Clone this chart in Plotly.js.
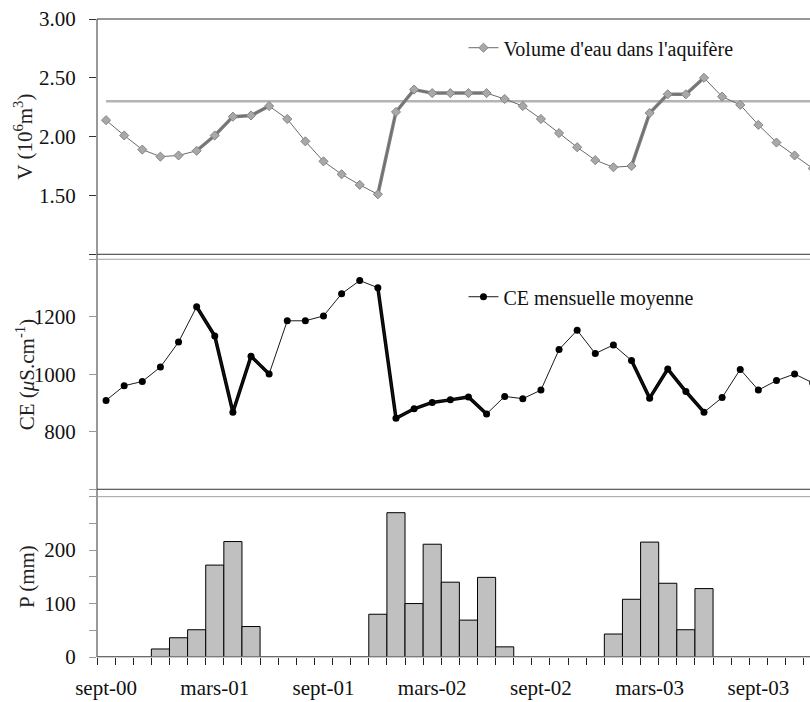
<!DOCTYPE html>
<html><head><meta charset="utf-8">
<script src="https://cdn.plot.ly/plotly-3.0.1.min.js"></script>
<style>html,body{margin:0;padding:0;background:#fff;overflow:hidden}#chart{width:810px;height:702px}</style>
</head><body><div id="chart"></div>
<script>
// Monthly categories, Sept 2000 -> Dec 2003
const months = [
  'sept-00','oct-00','nov-00','déc-00','janv-01','févr-01','mars-01','avr-01','mai-01','juin-01','juil-01','août-01',
  'sept-01','oct-01','nov-01','déc-01','janv-02','févr-02','mars-02','avr-02','mai-02','juin-02','juil-02','août-02',
  'sept-02','oct-02','nov-02','déc-02','janv-03','févr-03','mars-03','avr-03','mai-03','juin-03','juil-03','août-03',
  'sept-03','oct-03','nov-03','déc-03'
];
// Volume d'eau dans l'aquifère (10^6 m3)
const volume = [
  2.14, 2.01, 1.89, 1.83, 1.84, 1.88, 2.01, 2.17, 2.18, 2.26, 2.15, 1.96,
  1.79, 1.68, 1.59, 1.51, 2.21, 2.40, 2.37, 2.37, 2.37, 2.37, 2.32, 2.26,
  2.15, 2.03, 1.91, 1.80, 1.74, 1.75, 2.20, 2.36, 2.36, 2.50, 2.34, 2.27,
  2.10, 1.95, 1.84, 1.73
];
const volumeReference = 2.30;
// CE mensuelle moyenne (µS/cm)
const conductivity = [
  909, 960, 975, 1025, 1112, 1235, 1133, 868, 1063, 1001, 1186, 1186,
  1203, 1280, 1326, 1301, 847, 880, 902, 911, 921, 862, 923, 915,
  945, 1086, 1153, 1072, 1102, 1048, 917, 1018, 940, 868, 919, 1017,
  945, 978, 1001, 970
];
// Précipitations mensuelles (mm)
const rainfall = [
  0, 0, 0, 15, 36, 51, 172, 216, 57, 0, 0, 0,
  0, 0, 0, 80, 270, 100, 211, 140, 69, 149, 19, 0,
  0, 0, 0, 0, 43, 108, 215, 138, 51, 128, 0, 0,
  0, 0, 0, 0
];
// Recharge periods (first and last month index) drawn with a heavy line
const rechargeSpans = [[5, 9], [15, 21], [29, 33]];
const tickLabels = ['sept-00','mars-01','sept-01','mars-02','sept-02','mars-03','sept-03'];
const vTicks = [1.5, 2, 2.5, 3], vTickText = ['1.50', '2.00', '2.50', '3.00'], vMinor = [1];
const ceTicks = [800, 1000, 1200], ceMinor = [600, 1400];
const pTicks = [0, 100, 200], pMinor = [50, 150, 250, 300];

const idx = months.map((m, i) => i);
const tickPos = tickLabels.map(l => months.indexOf(l));
const FONT = "'Liberation Serif', 'Times New Roman', serif";
const traces = [];

traces.push({
  x: [idx[0], idx[idx.length - 1]], y: [volumeReference, volumeReference],
  mode: 'lines', line: {color: '#b4b4b4', width: 2.5}, showlegend: false, hoverinfo: 'skip',
  xaxis: 'x', yaxis: 'y'
});
rechargeSpans.forEach(([a, b]) => traces.push({
  x: idx.slice(a, b + 1), y: volume.slice(a, b + 1), mode: 'lines',
  line: {color: '#808080', width: 3.5}, showlegend: false, hoverinfo: 'skip', xaxis: 'x', yaxis: 'y'
}));
traces.push({
  x: idx, y: volume, text: months, name: "Volume d'eau dans l'aquifère", mode: 'lines+markers',
  line: {color: '#6a6a6a', width: 1},
  marker: {symbol: 'diamond', size: 7, color: '#a8a8a8', line: {color: '#858585', width: 1}},
  xaxis: 'x', yaxis: 'y', legend: 'legend'
});
rechargeSpans.forEach(([a, b]) => traces.push({
  x: idx.slice(a, b + 1), y: conductivity.slice(a, b + 1), mode: 'lines',
  line: {color: '#000', width: 3.5}, showlegend: false, hoverinfo: 'skip', xaxis: 'x', yaxis: 'y2'
}));
traces.push({
  x: idx, y: conductivity, text: months, name: 'CE mensuelle moyenne', mode: 'lines+markers',
  line: {color: '#1a1a1a', width: 1},
  marker: {symbol: 'circle', size: 7, color: '#000'},
  xaxis: 'x', yaxis: 'y2', legend: 'legend2'
});
traces.push({
  type: 'bar', x: idx, y: rainfall, text: months, width: 1, textposition: 'none',
  marker: {color: '#c0c0c0', line: {color: '#000', width: 1}},
  showlegend: false, xaxis: 'x', yaxis: 'y3'
});

const tickfont = {family: FONT, size: 21, color: '#111'};
const yBase = {showgrid: false, zeroline: false, showline: false, ticks: 'outside', ticklen: 7, tickwidth: 1,
  ticklabelstandoff: 9, tickfont: tickfont, fixedrange: true, tickmode: 'array'};
const minorY = (vals, color) => ({ticks: 'outside', ticklen: 7, tickwidth: 1, tickcolor: color, tickmode: 'array', tickvals: vals, showgrid: false});

const line = (yref, y, color) => ({type: 'line', xref: 'paper', yref: yref, x0: 0, x1: 1, y0: y, y1: y, line: {color: color, width: 1}});

const layout = {
  width: 810, height: 702,
  margin: {l: 97, r: 0, t: 19, b: 45},
  paper_bgcolor: '#fff', plot_bgcolor: 'rgba(0,0,0,0)',
  font: {family: FONT, color: '#111'},
  bargap: 0,
  xaxis: {
    anchor: 'y3', range: [-0.5, 38.85], showgrid: false, zeroline: false, showline: false,
    tickmode: 'array', tickvals: tickPos, ticktext: tickLabels,
    ticks: 'outside', ticklen: 12, tickcolor: 'rgba(0,0,0,0)', tickfont: tickfont,
    minor: {ticks: 'outside', ticklen: 7, tickwidth: 1, tickcolor: '#222', tickmode: 'linear', tick0: -0.5, dtick: 1, showgrid: false},
    fixedrange: true
  },
  yaxis: Object.assign({}, yBase, {domain: [0.6312, 1], range: [1, 3],
    tickvals: vTicks, ticktext: vTickText, tickcolor: '#333', minor: minorY(vMinor, '#333')}),
  yaxis2: Object.assign({}, yBase, {domain: [0.2629, 0.6234], range: [600, 1400],
    tickvals: ceTicks, ticktext: ceTicks.map(String), tickcolor: '#999', minor: minorY(ceMinor, '#999')}),
  yaxis3: Object.assign({}, yBase, {domain: [0, 0.2513], range: [0, 300],
    tickvals: pTicks, ticktext: pTicks.map(String), tickcolor: '#999', minor: minorY(pMinor, '#999')}),
  legend: {x: 0.514, y: 0.955, xanchor: 'left', yanchor: 'middle', bgcolor: 'rgba(0,0,0,0)', borderwidth: 0,
    font: {family: FONT, size: 20, color: '#111'}},
  legend2: {x: 0.514, y: 0.5647, xanchor: 'left', yanchor: 'middle', bgcolor: 'rgba(0,0,0,0)', borderwidth: 0,
    font: {family: FONT, size: 20, color: '#111'}},
  shapes: [
    {type: 'line', xref: 'paper', yref: 'paper', x0: 0, x1: 0, y0: 0, y1: 1, line: {color: '#333', width: 1}},
    line('y domain', 1, '#333'), line('y domain', 0, '#333'),
    line('y2 domain', 1, '#a0a0a0'), line('y2 domain', 0, '#333'),
    line('y3 domain', 1, '#a0a0a0'), line('y3 domain', 0, '#999')
  ],
  annotations: [
    {xref: 'paper', yref: 'y domain', x: -0.1024, y: 0.5, text: 'V (10<sup>6</sup>m<sup>3</sup>)', textangle: -90, showarrow: false,
      xanchor: 'center', yanchor: 'middle', font: {family: FONT, size: 21, color: '#222'}},
    {xref: 'paper', yref: 'y2 domain', x: -0.101, y: 0.5, text: 'CE (<i>μ</i>S.cm<sup>-1</sup>)', textangle: -90, showarrow: false,
      xanchor: 'center', yanchor: 'middle', font: {family: FONT, size: 21, color: '#222'}},
    {xref: 'paper', yref: 'y3 domain', x: -0.098, y: 0.5, text: 'P (mm)', textangle: -90, showarrow: false,
      xanchor: 'center', yanchor: 'middle', font: {family: FONT, size: 21, color: '#222'}}
  ]
};

Plotly.newPlot('chart', traces, layout, {displayModeBar: false, staticPlot: true});
</script>
</body></html>
